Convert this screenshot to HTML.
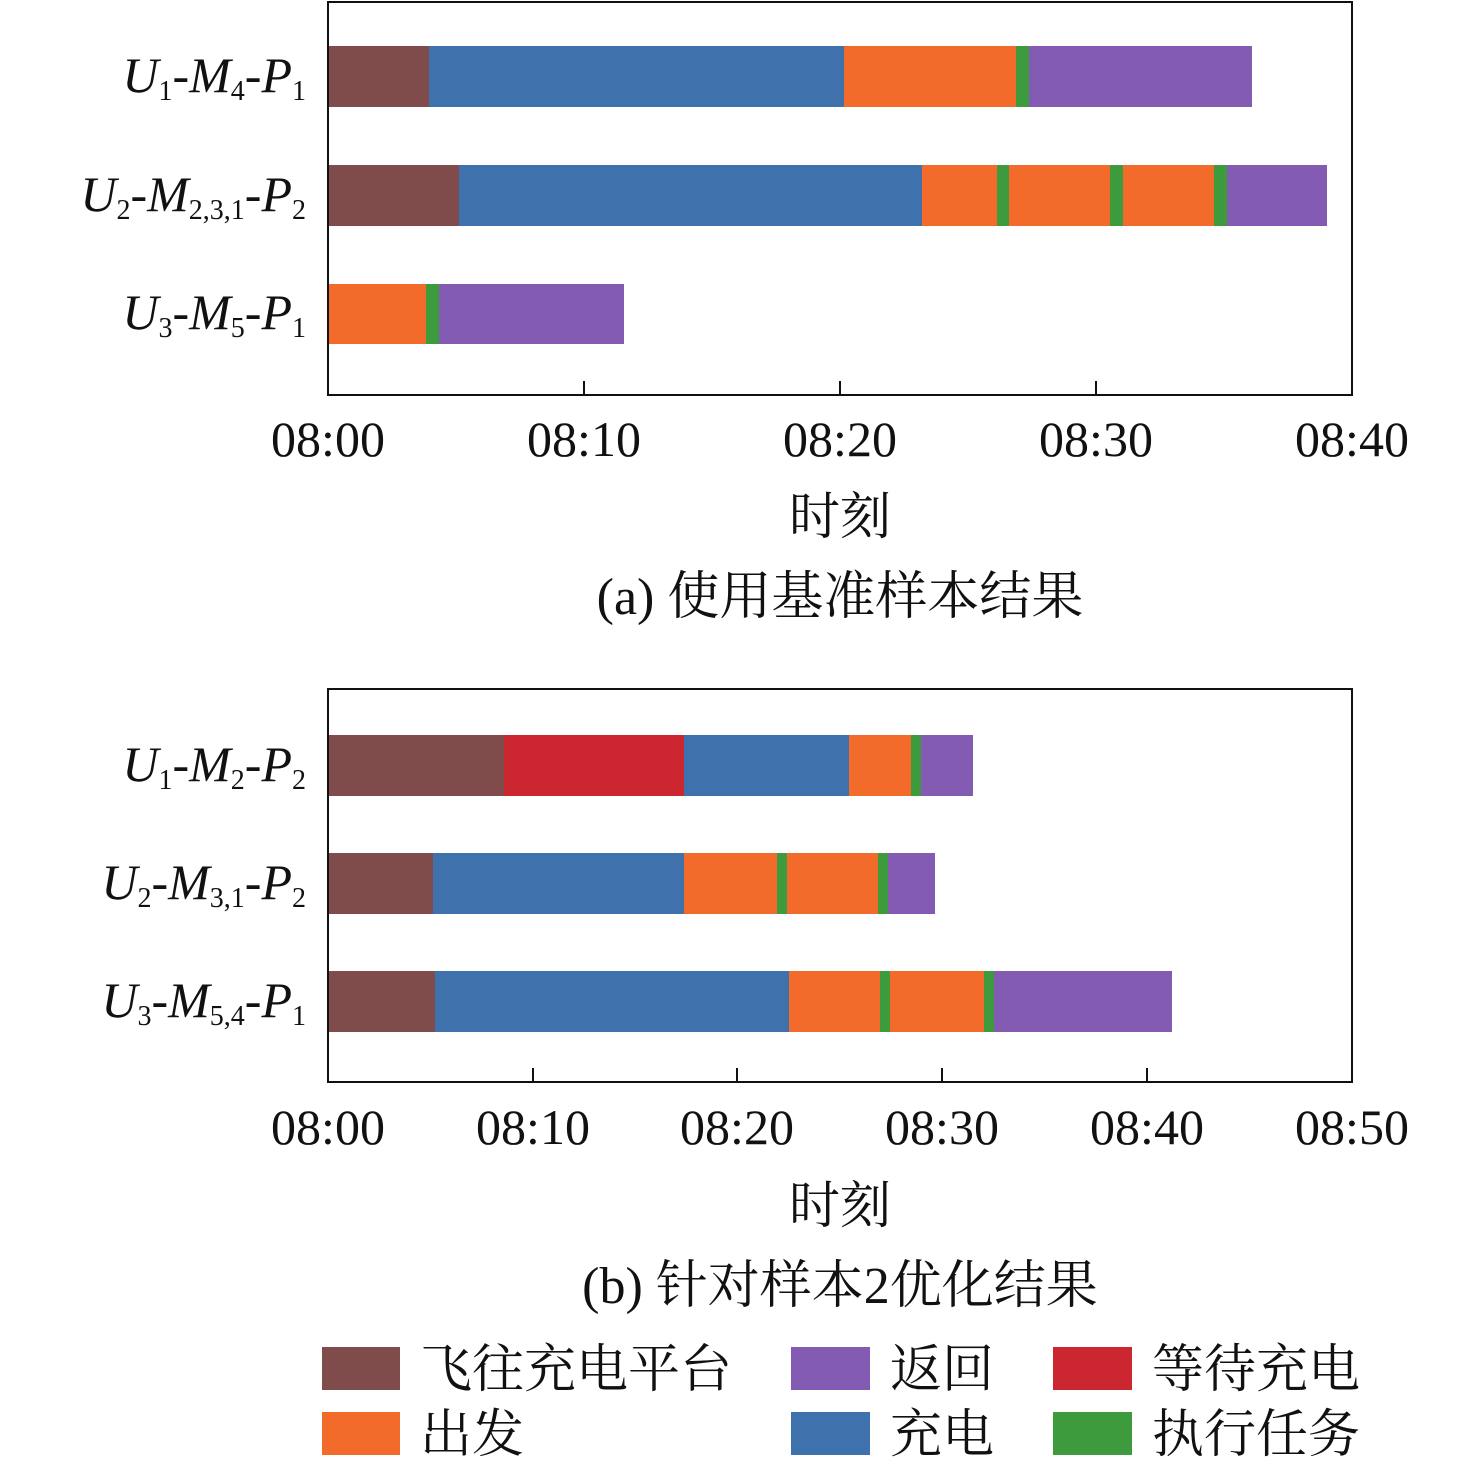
<!DOCTYPE html>
<html><head><meta charset="utf-8"><style>
body{margin:0;background:#fff}
svg text{font-family:"Liberation Serif","Noto Serif CJK SC",serif;fill:#111}
.yl{font-style:italic;font-size:50px}
.sb{font-size:28px;font-style:normal}
.tk{font-size:50px}
.cj{font-size:51px}
.cp{font-size:52px}
.lg{font-size:52px}
</style></head><body>
<svg width="1476" height="1464" viewBox="0 0 1476 1464" xmlns="http://www.w3.org/2000/svg">
<g>
<rect x="328" y="46" width="101" height="61" fill="#7f4b4b"/>
<rect x="429" y="46" width="415" height="61" fill="#3f72ad"/>
<rect x="844" y="46" width="172" height="61" fill="#f26b2a"/>
<rect x="1016" y="46" width="13" height="61" fill="#3e9b3d"/>
<rect x="1029" y="46" width="223" height="61" fill="#845bb3"/>

<rect x="328" y="165" width="131" height="61" fill="#7f4b4b"/>
<rect x="459" y="165" width="463" height="61" fill="#3f72ad"/>
<rect x="922" y="165" width="75" height="61" fill="#f26b2a"/>
<rect x="997" y="165" width="12" height="61" fill="#3e9b3d"/>
<rect x="1009" y="165" width="101" height="61" fill="#f26b2a"/>
<rect x="1110" y="165" width="13" height="61" fill="#3e9b3d"/>
<rect x="1123" y="165" width="91" height="61" fill="#f26b2a"/>
<rect x="1214" y="165" width="13" height="61" fill="#3e9b3d"/>
<rect x="1227" y="165" width="100" height="61" fill="#845bb3"/>

<rect x="328" y="284" width="98" height="60" fill="#f26b2a"/>
<rect x="426" y="284" width="13" height="60" fill="#3e9b3d"/>
<rect x="439" y="284" width="185" height="60" fill="#845bb3"/>

<rect x="328" y="2" width="1024" height="393" fill="none" stroke="#111" stroke-width="2"/>
<path d="M584 395V381M840 395V381M1096 395V381" stroke="#111" stroke-width="2"/>
<text class="tk" x="328" y="456" text-anchor="middle">08:00</text>
<text class="tk" x="584" y="456" text-anchor="middle">08:10</text>
<text class="tk" x="840" y="456" text-anchor="middle">08:20</text>
<text class="tk" x="1096" y="456" text-anchor="middle">08:30</text>
<text class="tk" x="1352" y="456" text-anchor="middle">08:40</text>
<text class="cj" x="840" y="534" text-anchor="middle">时刻</text>
<text class="cp" x="840" y="614" text-anchor="middle">(a) 使用基准样本结果</text>

<text class="yl" x="306" y="92" text-anchor="end">U<tspan class="sb" dy="8">1</tspan><tspan dy="-8">-M</tspan><tspan class="sb" dy="8">4</tspan><tspan dy="-8">-P</tspan><tspan class="sb" dy="8">1</tspan></text>
<text class="yl" x="306" y="211" text-anchor="end">U<tspan class="sb" dy="8">2</tspan><tspan dy="-8">-M</tspan><tspan class="sb" dy="8">2,3,1</tspan><tspan dy="-8">-P</tspan><tspan class="sb" dy="8">2</tspan></text>
<text class="yl" x="306" y="329" text-anchor="end">U<tspan class="sb" dy="8">3</tspan><tspan dy="-8">-M</tspan><tspan class="sb" dy="8">5</tspan><tspan dy="-8">-P</tspan><tspan class="sb" dy="8">1</tspan></text>
</g>
<g>
<rect x="328" y="735" width="176" height="61" fill="#7f4b4b"/>
<rect x="504" y="735" width="180" height="61" fill="#cc2631"/>
<rect x="684" y="735" width="165" height="61" fill="#3f72ad"/>
<rect x="849" y="735" width="62" height="61" fill="#f26b2a"/>
<rect x="911" y="735" width="10" height="61" fill="#3e9b3d"/>
<rect x="921" y="735" width="52" height="61" fill="#845bb3"/>

<rect x="328" y="853" width="105" height="61" fill="#7f4b4b"/>
<rect x="433" y="853" width="251" height="61" fill="#3f72ad"/>
<rect x="684" y="853" width="93" height="61" fill="#f26b2a"/>
<rect x="777" y="853" width="10" height="61" fill="#3e9b3d"/>
<rect x="787" y="853" width="91" height="61" fill="#f26b2a"/>
<rect x="878" y="853" width="10" height="61" fill="#3e9b3d"/>
<rect x="888" y="853" width="47" height="61" fill="#845bb3"/>

<rect x="328" y="971" width="107" height="61" fill="#7f4b4b"/>
<rect x="435" y="971" width="354" height="61" fill="#3f72ad"/>
<rect x="789" y="971" width="91" height="61" fill="#f26b2a"/>
<rect x="880" y="971" width="10" height="61" fill="#3e9b3d"/>
<rect x="890" y="971" width="94" height="61" fill="#f26b2a"/>
<rect x="984" y="971" width="10" height="61" fill="#3e9b3d"/>
<rect x="994" y="971" width="178" height="61" fill="#845bb3"/>

<rect x="328" y="689" width="1024" height="393" fill="none" stroke="#111" stroke-width="2"/>
<path d="M533 1082V1068M737 1082V1068M942 1082V1068M1147 1082V1068" stroke="#111" stroke-width="2"/>
<text class="tk" x="328" y="1144" text-anchor="middle">08:00</text>
<text class="tk" x="533" y="1144" text-anchor="middle">08:10</text>
<text class="tk" x="737" y="1144" text-anchor="middle">08:20</text>
<text class="tk" x="942" y="1144" text-anchor="middle">08:30</text>
<text class="tk" x="1147" y="1144" text-anchor="middle">08:40</text>
<text class="tk" x="1352" y="1144" text-anchor="middle">08:50</text>
<text class="cj" x="840" y="1223" text-anchor="middle">时刻</text>
<text class="cp" x="840" y="1303" text-anchor="middle">(b) 针对样本2优化结果</text>

<text class="yl" x="306" y="781" text-anchor="end">U<tspan class="sb" dy="8">1</tspan><tspan dy="-8">-M</tspan><tspan class="sb" dy="8">2</tspan><tspan dy="-8">-P</tspan><tspan class="sb" dy="8">2</tspan></text>
<text class="yl" x="306" y="899" text-anchor="end">U<tspan class="sb" dy="8">2</tspan><tspan dy="-8">-M</tspan><tspan class="sb" dy="8">3,1</tspan><tspan dy="-8">-P</tspan><tspan class="sb" dy="8">2</tspan></text>
<text class="yl" x="306" y="1017" text-anchor="end">U<tspan class="sb" dy="8">3</tspan><tspan dy="-8">-M</tspan><tspan class="sb" dy="8">5,4</tspan><tspan dy="-8">-P</tspan><tspan class="sb" dy="8">1</tspan></text>
</g>
<g>
<rect x="322" y="1347" width="78" height="43" fill="#7f4b4b"/>
<text class="lg" x="420" y="1387">飞往充电平台</text>
<rect x="322" y="1412" width="78" height="43" fill="#f26b2a"/>
<text class="lg" x="420" y="1452">出发</text>
<rect x="791" y="1347" width="79" height="43" fill="#845bb3"/>
<text class="lg" x="890" y="1387">返回</text>
<rect x="791" y="1412" width="79" height="43" fill="#3f72ad"/>
<text class="lg" x="890" y="1452">充电</text>
<rect x="1053" y="1347" width="79" height="43" fill="#cc2631"/>
<text class="lg" x="1152" y="1387">等待充电</text>
<rect x="1053" y="1412" width="79" height="43" fill="#3e9b3d"/>
<text class="lg" x="1152" y="1452">执行任务</text>
</g>
</svg>
</body></html>
